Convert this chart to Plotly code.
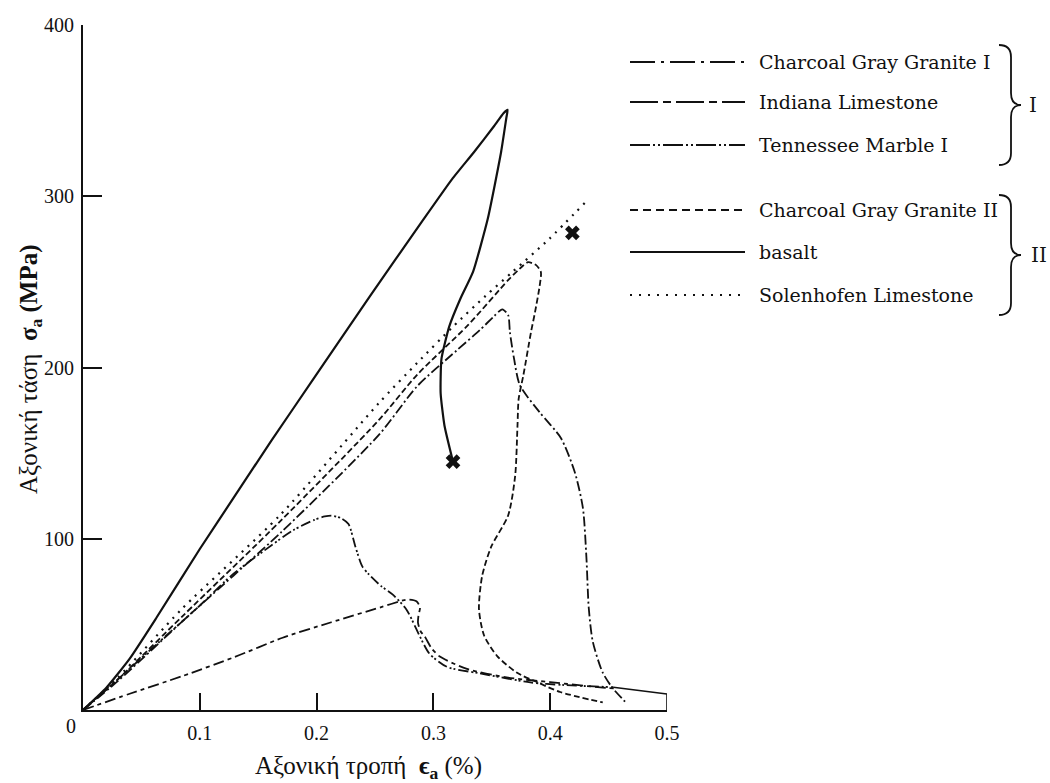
import plotly.graph_objects as go

# ---------------- curve data: axial strain (%) vs axial stress (MPa) ----------------
basalt_strain = [0, 0.02, 0.04, 0.063, 0.1, 0.13, 0.161, 0.197, 0.246, 0.29, 0.316, 0.335,
                 0.352, 0.360, 0.3635, 0.3625, 0.358, 0.3466, 0.334, 0.323, 0.3136, 0.3069,
                 0.3062, 0.3095, 0.3168]
basalt_stress = [0, 13, 30, 54, 94, 125, 157, 193, 242, 285, 310, 326,
                 341, 348.5, 350.5, 346, 326, 287, 256, 240, 224, 205,
                 185, 166, 145]

solen_strain = [0, 0.03, 0.0846, 0.169, 0.253, 0.286, 0.317, 0.345, 0.368, 0.399, 0.4295]
solen_stress = [0, 19, 59, 114, 179, 202.6, 224, 242, 256, 275, 296]

cgg2_strain = [0, 0.03, 0.0855, 0.17, 0.2534, 0.286, 0.33, 0.364, 0.376, 0.381, 0.388, 0.392,
               0.391, 0.387, 0.3836, 0.377, 0.373, 0.372, 0.370, 0.364, 0.3496, 0.3418, 0.339,
               0.3434, 0.3546, 0.3717, 0.389, 0.4085, 0.445]
cgg2_stress = [0, 18, 55, 111, 169.4, 195.7, 225, 251, 259, 261.5, 259.8, 255.8,
               247.8, 232.3, 220.8, 195.4, 181.7, 166.2, 136.7, 113.6, 95.5, 78.5, 59,
               43.5, 31.5, 21.7, 16.2, 10.5, 4.4]

cgg1_strain = [0, 0.03, 0.0855, 0.17, 0.2535, 0.286, 0.32, 0.34, 0.352, 0.359, 0.364, 0.3655,
               0.369, 0.374, 0.391, 0.409, 0.421, 0.428, 0.431, 0.433, 0.4364, 0.4447, 0.453,
               0.466]
cgg1_stress = [0, 17, 52, 104, 160.8, 189, 210, 222, 230, 234, 230.6, 220.6,
               205.3, 189.7, 173.8, 159, 139, 118, 89.1, 59.7, 40.1, 22.2, 13.2,
               3.5]

tenn_strain = [0, 0.03, 0.064, 0.1, 0.127, 0.155, 0.180, 0.198, 0.207, 0.213, 0.221, 0.2273,
               0.2334, 0.2390, 0.245, 0.255, 0.265, 0.277, 0.2884, 0.2965, 0.3116, 0.3397,
               0.383, 0.411, 0.454]
tenn_stress = [0, 18, 39, 61, 78.5, 93, 105, 111, 113, 113.5, 112, 108.6,
               95, 84, 79, 72.5, 67.5, 58.6, 43, 33, 25.2, 21.4,
               16.1, 14.6, 13.3]
tail_strain = [0.454, 0.5, 0.5]
tail_stress = [13.3, 9.3, 0]

indiana_strain = [0, 0.04, 0.0855, 0.13, 0.1709, 0.2119, 0.2559, 0.274, 0.2793, 0.2855, 0.2885,
                  0.2872, 0.2868, 0.289, 0.2925, 0.2985, 0.3055, 0.3287, 0.3627, 0.40, 0.443,
                  0.455]
indiana_stress = [0, 9.5, 19.9, 31, 42.2, 51.1, 60.2, 64.0, 64.5, 63.5, 60,
                  55, 51, 46, 43, 36, 31.2, 24, 19, 16.3, 13.2,
                  12.6]

# failure points
fail_strain = [0.3168, 0.419]
fail_stress = [145, 278.6]

x_ticks = [0.1, 0.2, 0.3, 0.4, 0.5]
x_tick_text = ["0.1", "0.2", "0.3", "0.4", "0.5"]
y_ticks = [100, 200, 300, 400]
y_tick_text = ["100", "200", "300", "400"]

legend_names = ["Charcoal Gray Granite I", "Indiana Limestone", "Tennessee Marble I",
                "Charcoal Gray Granite II", "basalt", "Solenhofen Limestone"]
legend_dashes = ["25px,6px,3px,6px", "28px,5px,8px,5px", "20px,3px,2px,3px,2px,3px",
                 "8px,5px", "solid", "2px,7px"]

# ---------------- page geometry ----------------
W, H = 1050, 783
ML, MR, MT, MB = 83, 383, 25, 73
PW = W - ML - MR
PH = H - MT - MB


def px(x):
    return (x - ML) / PW


def py(y):
    return (H - MB - y) / PH


INK = "#111111"
SERIF = "Liberation Serif, Times New Roman, serif"
LEG_FONT = "DejaVu Serif, serif"

fig = go.Figure()


def curve(x, y, dash, width=1.8, smooth=0.7):
    line = dict(color=INK, width=width, dash=dash)
    if smooth:
        line.update(shape="spline", smoothing=smooth)
    fig.add_trace(go.Scatter(x=x, y=y, mode="lines", cliponaxis=False, line=line,
                             showlegend=False, hoverinfo="skip"))


curve(cgg1_strain, cgg1_stress, "10px,3px,2px,3px")
curve(indiana_strain, indiana_stress, "11px,4px,4px,4px")
curve(tenn_strain, tenn_stress, "10px,3px,2px,2px,2px,3px")
curve(tail_strain, tail_stress, "solid", 1.6, smooth=0)
curve(cgg2_strain, cgg2_stress, "6px,3px")
curve(solen_strain, solen_stress, "2px,6px", 2.2)
curve(basalt_strain, basalt_stress, "solid", 2.2, smooth=0.5)

fig.add_trace(go.Scatter(x=fail_strain, y=fail_stress, mode="markers", cliponaxis=False,
                         marker=dict(symbol="x", size=13, color=INK, line=dict(width=0)),
                         showlegend=False, hoverinfo="skip"))

shapes = []
annotations = []

# legend: sample lines and labels
legend_rows = [62, 102, 145, 210, 252, 295]
for name, dash, row in zip(legend_names, legend_dashes, legend_rows):
    shapes.append(dict(type="line", xref="paper", yref="paper",
                       x0=px(630), x1=px(745), y0=py(row), y1=py(row),
                       line=dict(color=INK, width=2 if dash == "solid" else 1.8, dash=dash)))
    annotations.append(dict(xref="paper", yref="paper", x=px(757), y=py(row),
                            xanchor="left", yanchor="middle", showarrow=False, text=name,
                            font=dict(family=LEG_FONT, size=19, color=INK)))


def brace(top, bottom, xl, xr, tip):
    mid = (top + bottom) / 2
    pts = [("M", xl, top), ("Q", xr, top), ("", xr, top + 12), ("L", xr, mid - 12),
           ("Q", xr, mid), ("", tip, mid), ("Q", xr, mid), ("", xr, mid + 12),
           ("L", xr, bottom - 12), ("Q", xr, bottom), ("", xl, bottom)]
    return " ".join(f"{c} {px(a):.5f},{py(b):.5f}".strip() for c, a, b in pts)


for top, bottom, label, lx in [(45, 165, "I", 1033), (195, 315, "II", 1039)]:
    shapes.append(dict(type="path", xref="paper", yref="paper",
                       path=brace(top, bottom, 999, 1011, 1021),
                       line=dict(color=INK, width=1.8)))
    annotations.append(dict(xref="paper", yref="paper", x=px(lx), y=py((top + bottom) / 2),
                            xanchor="center", yanchor="middle", showarrow=False, text=label,
                            font=dict(family=LEG_FONT, size=20, color=INK)))

# axis titles and the shared origin label
annotations.append(dict(xref="paper", yref="paper", x=px(368), y=py(767),
                        xanchor="center", yanchor="middle", showarrow=False,
                        text="Αξονική τροπή\u00a0\u00a0<b>ϵ<sub>a</sub></b> (%)",
                        font=dict(family=SERIF, size=25, color=INK)))
annotations.append(dict(xref="paper", yref="paper", x=px(30), y=py(369),
                        xanchor="center", yanchor="middle", showarrow=False, textangle=-90,
                        text="Αξονική τάση\u00a0\u00a0<b>σ<sub>a</sub> (MPa)</b>",
                        font=dict(family=SERIF, size=25, color=INK)))
annotations.append(dict(xref="x", yref="y", x=0, y=0, xshift=-12, yshift=-16,
                        xanchor="center", yanchor="middle", showarrow=False, text="0",
                        font=dict(family=SERIF, size=20, color=INK)))

fig.update_layout(
    width=W, height=H,
    margin=dict(l=ML, r=MR, t=MT, b=MB, autoexpand=False),
    paper_bgcolor="white", plot_bgcolor="white",
    showlegend=False,
    shapes=shapes, annotations=annotations,
    xaxis=dict(range=[0, 0.5], showgrid=False, zeroline=False, showline=True,
               linecolor=INK, linewidth=2, ticks="inside", ticklen=17, tickwidth=1.6,
               tickcolor=INK, tickvals=x_ticks, ticktext=x_tick_text,
               ticklabelstandoff=4,
               tickfont=dict(family=SERIF, size=20, color=INK)),
    yaxis=dict(range=[0, 400], showgrid=False, zeroline=False, showline=True,
               linecolor=INK, linewidth=2, ticks="inside", ticklen=19, tickwidth=1.6,
               tickcolor=INK, tickvals=y_ticks, ticktext=y_tick_text,
               ticklabelstandoff=3,
               tickfont=dict(family=SERIF, size=20, color=INK)),
)

fig.write_html("out.html", config={"displayModeBar": False})
